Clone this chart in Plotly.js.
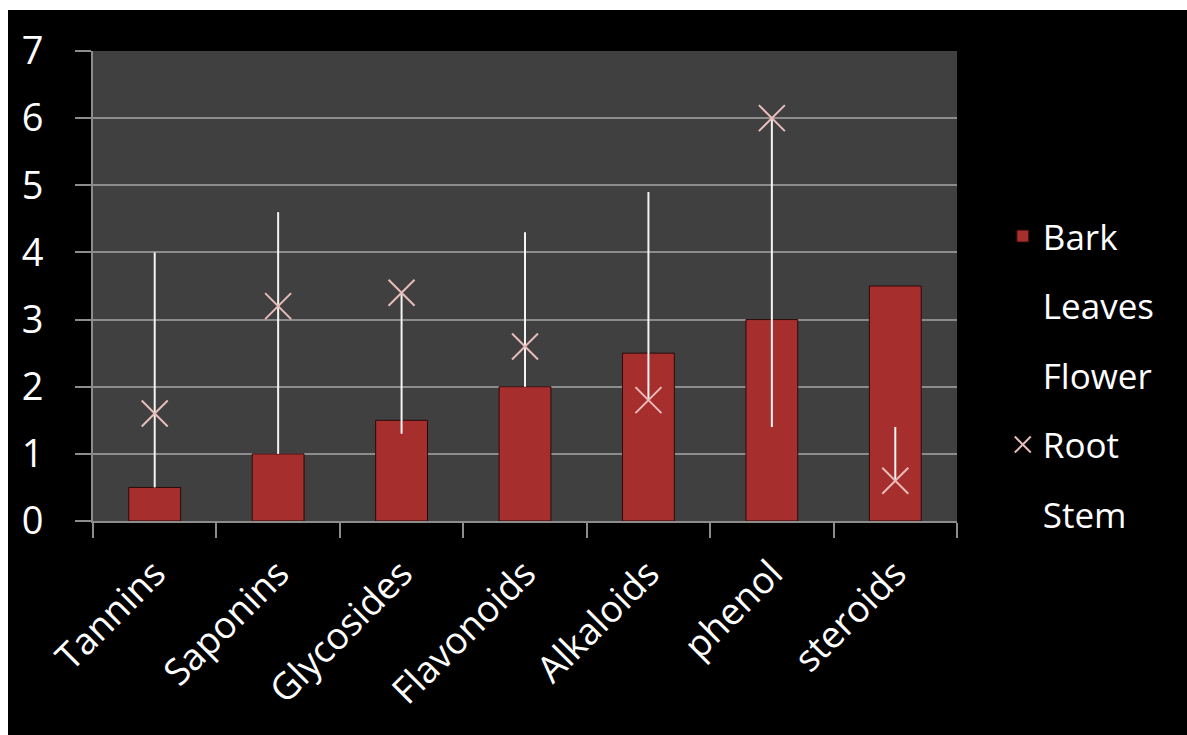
<!DOCTYPE html>
<html>
<head>
<meta charset="utf-8">
<script src="https://cdn.plot.ly/plotly-3.0.1.min.js"></script>
<style>
  html, body { margin: 0; padding: 0; background: #ffffff; overflow: hidden; }
  #chart { position: absolute; left: 8px; top: 10px; width: 1179px; height: 725px; }
</style>
</head>
<body>
<div id="chart"></div>
<script>
// ---- data ----
var categories = ["Tannins", "Saponins", "Glycosides", "Flavonoids", "Alkaloids", "phenol", "steroids"];
var bark    = [0.5, 1.0, 1.5, 2.0, 2.5, 3.0, 3.5];
var leaves  = [4.0, 4.6, 2.5, 4.3, 4.9, 3.0, 1.4];
var flower  = [0.5, 1.0, 1.3, 2.0, 2.5, 1.4, 1.0];
var root    = [1.6, 3.2, 3.4, 2.6, 1.8, 6.0, 0.6];
var stem    = [1.0, 2.0, 2.0, 3.0, 3.0, 2.0, 1.2];
var yTicks  = [0, 1, 2, 3, 4, 5, 6, 7];

// high-low lines built from the line series
var hlX = [], hlY = [];
categories.forEach(function (c, i) {
  var vals = [leaves[i], flower[i], root[i], stem[i]];
  hlX.push(c, c, null);
  hlY.push(Math.min.apply(null, vals), Math.max.apply(null, vals), null);
});

var FONT = "Open Sans, Lato, sans-serif";
var invisible = {color: "rgba(0,0,0,0)", width: 0};

var traces = [
  {type: "bar", name: "Bark", x: categories, y: bark, legendgroup: "a",
   marker: {color: "#a62f2d", line: {color: "#2a0a0a", width: 1}}, width: 0.42},
  {type: "scatter", mode: "lines", name: "Leaves", x: categories, y: leaves, legendgroup: "b", line: invisible},
  {type: "scatter", mode: "lines", name: "Flower", x: categories, y: flower, legendgroup: "c", line: invisible},
  {type: "scatter", mode: "lines", x: hlX, y: hlY, showlegend: false, line: {color: "#f4f4f4", width: 2}},
  {type: "scatter", mode: "markers", name: "Root", x: categories, y: root, legendgroup: "d",
   marker: {symbol: "x-thin-open", size: 26, color: "#e8bcbb", line: {color: "#e8bcbb", width: 2}}},
  {type: "scatter", mode: "lines", name: "Stem", x: categories, y: stem, legendgroup: "e", line: invisible}
];

var layout = {
  width: 1179, height: 725,
  paper_bgcolor: "#000000",
  plot_bgcolor: "#404040",
  margin: {l: 85, r: 230, t: 41, b: 214},
  showlegend: true,
  hovermode: false,
  font: {family: FONT, color: "#ffffff"},
  xaxis: {
    type: "category",
    showgrid: false,
    showline: true, linecolor: "#8c8c8c", linewidth: 2,
    ticks: "outside", tickson: "boundaries", ticklen: 15, tickcolor: "#8c8c8c", tickwidth: 2,
    tickangle: -45,
    ticklabelstandoff: 14,
    tickfont: {family: FONT, size: 37, color: "#ffffff"},
    zeroline: false
  },
  yaxis: {
    range: [0, 7],
    tickvals: yTicks,
    showgrid: true, gridcolor: "#8c8c8c", gridwidth: 2,
    showline: true, linecolor: "#8c8c8c", linewidth: 2,
    ticks: "outside", ticklen: 16, tickcolor: "#8c8c8c", tickwidth: 2,
    ticklabelstandoff: 24,
    tickfont: {family: FONT, size: 38, color: "#ffffff"},
    zeroline: false
  },
  legend: {
    x: 1.053, xanchor: "left",
    y: 0.31, yanchor: "middle",
    bgcolor: "rgba(0,0,0,0)",
    font: {family: FONT, size: 35, color: "#ffffff"},
    tracegroupgap: 21,
    itemsizing: "trace"
  }
};

Plotly.newPlot("chart", traces, layout, {displayModeBar: false, staticPlot: true});
</script>
</body>
</html>
